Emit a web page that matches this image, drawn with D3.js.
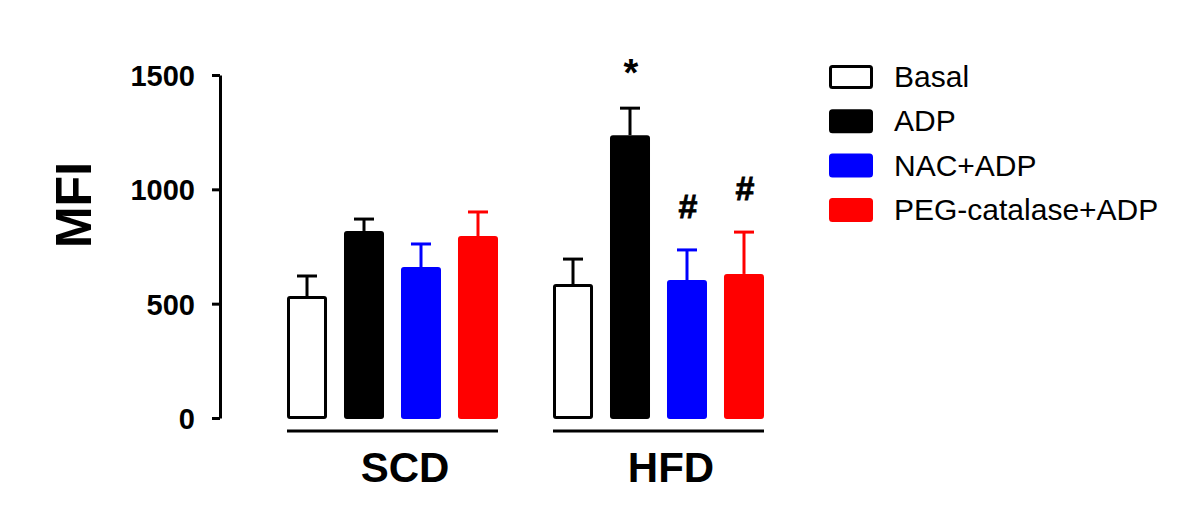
<!DOCTYPE html>
<html>
<head>
<meta charset="utf-8">
<script src="https://cdn.jsdelivr.net/npm/d3@7"></script>
<style>
  body { margin: 0; background: #fff; }
  text { font-family: Arial, "Liberation Sans", sans-serif; }
</style>
</head>
<body>
<svg id="chart" width="1200" height="525"></svg>
<script>
// data
const groups = ['SCD', 'HFD'];
const treatments = ['Basal', 'ADP', 'NAC+ADP', 'PEG-catalase+ADP'];
const colors = ['#ffffff', '#000000', '#0000ff', '#ff0000'];
const strokes = ['#000000', '#000000', '#0000ff', '#ff0000'];
const meanSCD = [533, 818, 660, 796];
const semSCD = [88, 52, 101, 105];
const meanHFD = [586, 1237, 603, 630];
const semHFD = [109, 118, 132, 183];
const marksHFD = ['', '*', '#', '#'];
const yTicks = [0, 500, 1000, 1500];

const rows = [];
groups.forEach((g, gi) => {
  const means = gi === 0 ? meanSCD : meanHFD;
  const sems = gi === 0 ? semSCD : semHFD;
  treatments.forEach((t, i) => {
    rows.push({ group: g, treat: t, i: i, mean: means[i], sem: sems[i], mark: gi === 1 ? marksHFD[i] : '' });
  });
});

const svg = d3.select('#chart');

const y = d3.scaleLinear().domain([0, 1500]).range([418, 75]);
const x0 = d3.scaleBand().domain(groups).range([287, 287 + 532]);
const x1 = d3.scaleBand().domain(treatments).range([0, 211]).paddingInner(0.298);

// y axis
const yAxis = svg.append('g')
  .attr('transform', 'translate(220,0)')
  .call(d3.axisLeft(y).tickValues(yTicks).tickFormat(d3.format('d'))
    .tickSize(8).tickSizeOuter(0).tickPadding(17));
yAxis.select('.domain').attr('stroke-width', 3);
yAxis.selectAll('.tick line').attr('stroke-width', 3);
yAxis.selectAll('.tick text')
  .style('font-family', 'Arial, "Liberation Sans", sans-serif')
  .style('font-size', '29px')
  .style('font-weight', 'bold')
  .attr('dy', '0.36em');

svg.append('text')
  .attr('transform', 'translate(91,205) rotate(-90)')
  .attr('text-anchor', 'middle')
  .style('font-size', '50px')
  .style('font-weight', 'bold')
  .text('MFI');

// bars
const bar = svg.append('g').selectAll('g')
  .data(rows)
  .enter().append('g')
  .attr('transform', d => 'translate(' + (x0(d.group) + x1(d.treat)) + ',0)');

const bw = x1.bandwidth();

// error bars (upper only)
bar.append('line')
  .attr('x1', bw / 2).attr('x2', bw / 2)
  .attr('y1', d => y(d.mean)).attr('y2', d => y(d.mean + d.sem))
  .attr('stroke', d => strokes[d.i]).attr('stroke-width', 3);
bar.append('line')
  .attr('x1', bw / 2 - 10).attr('x2', bw / 2 + 10)
  .attr('y1', d => y(d.mean + d.sem)).attr('y2', d => y(d.mean + d.sem))
  .attr('stroke', d => strokes[d.i]).attr('stroke-width', 3);

bar.append('rect')
  .attr('x', 1.5).attr('width', bw - 3)
  .attr('y', d => y(d.mean) + 1.5)
  .attr('height', d => y(0) - y(d.mean) - 2)
  .attr('rx', 1.5)
  .attr('fill', d => colors[d.i])
  .attr('stroke', d => strokes[d.i])
  .attr('stroke-width', 3);

// significance marks
bar.filter(d => d.mark)
  .append('text')
  .attr('x', bw / 2 + 1)
  .attr('y', d => y(d.mean + d.sem) - (d.mark === '*' ? 22 : 32))
  .attr('text-anchor', 'middle')
  .style('font-size', d => d.mark === '*' ? '38px' : '34px')
  .style('font-weight', 'bold')
  .style('stroke', '#000')
  .style('stroke-width', d => d.mark === '#' ? 0.8 : 0)
  .text(d => d.mark);

// group underlines and labels
const grp = svg.append('g').selectAll('g')
  .data(groups)
  .enter().append('g')
  .attr('transform', d => 'translate(' + x0(d) + ',0)');
grp.append('line')
  .attr('x1', 0).attr('x2', 211)
  .attr('y1', 431).attr('y2', 431)
  .attr('stroke', '#000').attr('stroke-width', 3);
grp.append('text')
  .attr('x', 118).attr('y', 482)
  .attr('text-anchor', 'middle')
  .style('font-size', '42px')
  .style('font-weight', 'bold')
  .text(d => d);

// legend
const leg = svg.append('g').selectAll('g')
  .data(treatments)
  .enter().append('g')
  .attr('transform', (d, i) => 'translate(829,' + (77 + i * 44.3) + ')');
leg.append('rect')
  .attr('x', 1.5).attr('y', -10.5)
  .attr('width', 41).attr('height', 21)
  .attr('rx', 2)
  .attr('fill', (d, i) => colors[i])
  .attr('stroke', (d, i) => strokes[i])
  .attr('stroke-width', 3);
leg.append('text')
  .attr('x', 65).attr('y', 10)
  .style('font-size', '30px')
  .text(d => d);
</script>
</body>
</html>
